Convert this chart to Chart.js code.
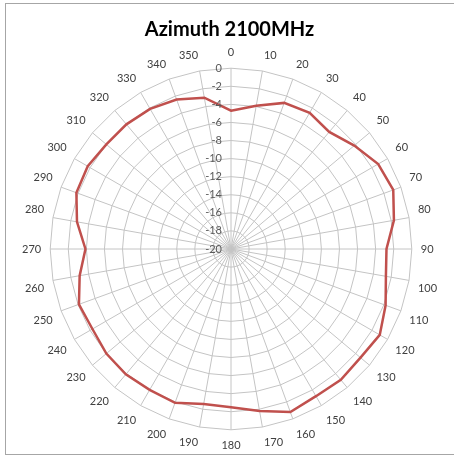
<!DOCTYPE html>
<html>
<head>
<meta charset="utf-8">
<script src="https://cdn.jsdelivr.net/npm/chart.js@4"></script>
<style>
  body { margin: 0; background: #fff; }
  #box { position: absolute; left: 0; top: 0; width: 454px; height: 456px; }
  #frame { position: absolute; left: 5px; top: 3px; width: 460px; height: 450px; border: 1px solid #a6a6a6; pointer-events: none; }
</style>
</head>
<body>
<div id="box"><canvas id="azimuthChart"></canvas></div>
<div id="frame"></div>
<script>
// Angles (degrees) around the radar
const angles = ['0', '10', '20', '30', '40', '50', '60', '70', '80', '90', '100', '110',
  '120', '130', '140', '150', '160', '170', '180', '190', '200', '210', '220', '230',
  '240', '250', '260', '270', '280', '290', '300', '310', '320', '330', '340', '350'];

// Relative gain in dB
const gain = [-4.7, -3.9, -2.8, -2.6, -3.1, -2.2, -1.2, -0.9, -1.7, -2.8, -2.6, -1.8,
  -1.0, -1.3, -1.1, -1.2, -0.8, -1.8, -2.5, -2.6, -1.9, -2.0, -1.9, -2.0,
  -2.3, -2.1, -3.0, -3.9, -2.7, -1.8, -1.7, -2.0, -2.0, -2.1, -2.4, -3.0];

// Radial axis range
const axisMin = -20;
const axisMax = 0;
const axisStep = 2;

// Tick labels sit to the left of the vertical axis, like Excel does it
const leftTicks = {
  id: 'leftTicks',
  afterDraw(chart) {
    const scale = chart.scales.r;
    const ctx = chart.ctx;
    ctx.save();
    ctx.font = '11px Lato';
    ctx.fillStyle = '#595959';
    ctx.textAlign = 'right';
    ctx.textBaseline = 'middle';
    scale.ticks.forEach(tick => {
      const y = scale.yCenter - scale.getDistanceFromCenterForValue(tick.value);
      ctx.fillText(tick.label, scale.xCenter - 9, y);
    });
    ctx.restore();
  }
};

document.addEventListener('DOMContentLoaded', function() {
  const ctx = document.getElementById('azimuthChart').getContext('2d');
  new Chart(ctx, {
    type: 'radar',
    data: {
      labels: angles,
      datasets: [{
        label: 'Azimuth 2100MHz',
        data: gain,
        borderColor: '#c0504d',
        borderWidth: 2.5,
        pointRadius: 0,
        fill: false,
        tension: 0
      }]
    },
    options: {
      responsive: true,
      maintainAspectRatio: false,
      animation: false,
      layout: { padding: { top: 0, bottom: 3, left: 5, right: 0 } },
      plugins: {
        legend: { display: false },
        tooltip: { enabled: false },
        title: {
          display: true,
          text: 'Azimuth 2100MHz',
          color: '#000',
          font: { family: 'Lato', size: 20, weight: 'bold' },
          padding: { top: 18, bottom: 4 }
        }
      },
      scales: {
        r: {
          min: axisMin,
          max: axisMax,
          ticks: { stepSize: axisStep, display: false },
          grid: { color: '#c4c4c4', lineWidth: 1 },
          angleLines: { color: '#c4c4c4', lineWidth: 1 },
          pointLabels: {
            color: '#404040',
            padding: 9,
            font: { family: 'Lato', size: 11 }
          }
        }
      }
    },
    plugins: [leftTicks]
  });
});
</script>
</body>
</html>
